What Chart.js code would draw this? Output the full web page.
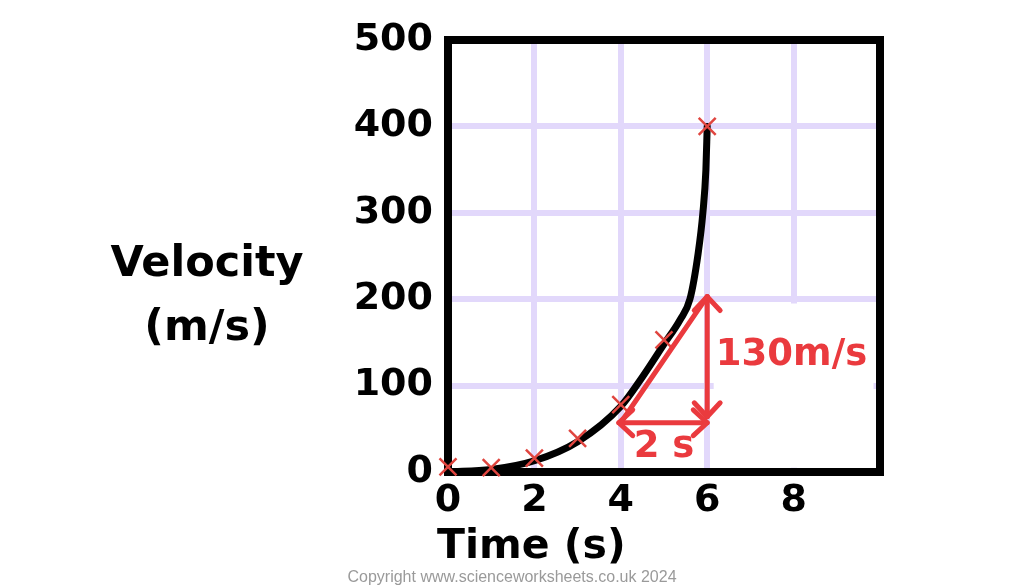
<!DOCTYPE html>
<html>
<head>
<meta charset="utf-8">
<script src="https://cdn.jsdelivr.net/npm/chart.js@4.4.1/dist/chart.umd.min.js"></script>
<style>
  html, body { margin: 0; padding: 0; background: #ffffff; }
  #wrap { width: 1024px; height: 587px; position: relative; }
</style>
</head>
<body>
<div id="wrap"><canvas id="velocity-chart" width="1024" height="587"></canvas></div>
<script>
// measured points (red crosses)
var timeData = [0, 1, 2, 3, 4, 5, 6];
var velocityData = [6, 5, 16, 39, 78, 153, 400];

// best-fit curve
var curveTime = [0, 1, 2, 3, 4, 4.5, 5, 5.37, 5.6, 5.79, 5.9, 5.97, 6];
var curveVelocity = [0, 3, 13, 35, 76, 110, 148, 176, 200, 253, 300, 350, 400];

// gradient triangle (data units)
var triTime = [4, 6];
var triVelocity = [57, 203];
var triArrowBottom = 64;
var riseLabel = '130m/s';
var runLabel = '2 s';

var xTicks = [0, 2, 4, 6, 8];
var yTicks = [0, 100, 200, 300, 400, 500];

var RED = '#ea3a3e';
var GRID = '#e2d8fb';
var FONT = '"DejaVu Sans", "Open Sans", sans-serif';

function arrowHead(ctx, x, y, ang, len) {
    // ang = direction the arrow points to
    var a = 0.75;
    ctx.beginPath();
    ctx.moveTo(x - len * Math.cos(ang - a), y - len * Math.sin(ang - a));
    ctx.lineTo(x, y);
    ctx.lineTo(x - len * Math.cos(ang + a), y - len * Math.sin(ang + a));
    ctx.stroke();
}

var extras = {
    id: 'extras',
    beforeDatasetsDraw: function (chart) {
        var ctx = chart.ctx, a = chart.chartArea;
        var xs = chart.scales.x, ys = chart.scales.y;
        ctx.save();
        // white box behind the rise label (hides some grid)
        ctx.fillStyle = '#ffffff';
        ctx.fillRect(xs.getPixelForValue(6.15), ys.getPixelForValue(195),
            xs.getPixelForValue(9.85) - xs.getPixelForValue(6.15),
            ys.getPixelForValue(5) - ys.getPixelForValue(195));
        // frame
        ctx.strokeStyle = '#000000';
        ctx.lineWidth = 8;
        ctx.strokeRect(a.left, a.top, a.right - a.left, a.bottom - a.top);
        ctx.restore();
    },
    afterDatasetsDraw: function (chart) {
        var ctx = chart.ctx;
        var xs = chart.scales.x, ys = chart.scales.y;
        var x0 = xs.getPixelForValue(triTime[0]), x1 = xs.getPixelForValue(triTime[1]);
        var yb = ys.getPixelForValue(triVelocity[0]), yt = ys.getPixelForValue(triVelocity[1]);
        var yv = ys.getPixelForValue(triArrowBottom);
        ctx.save();
        ctx.strokeStyle = RED;
        ctx.lineWidth = 5;
        ctx.lineCap = 'round';
        ctx.lineJoin = 'round';
        // hypotenuse
        ctx.beginPath();
        ctx.moveTo(x0 + 2, yb - 3);
        ctx.lineTo(x1, yt);
        ctx.stroke();
        // vertical double arrow
        ctx.beginPath();
        ctx.moveTo(x1, yt);
        ctx.lineTo(x1, yv);
        ctx.stroke();
        arrowHead(ctx, x1, yt, -Math.PI / 2, 19);
        arrowHead(ctx, x1, yv, Math.PI / 2, 19);
        // horizontal double arrow
        ctx.beginPath();
        ctx.moveTo(x0 - 2, yb);
        ctx.lineTo(x1, yb);
        ctx.stroke();
        arrowHead(ctx, x0 - 2, yb, Math.PI, 19);
        arrowHead(ctx, x1, yb, 0, 19);
        // labels
        ctx.fillStyle = RED;
        ctx.font = 'bold 37px ' + FONT;
        ctx.textBaseline = 'middle';
        ctx.textAlign = 'left';
        ctx.fillText(riseLabel, xs.getPixelForValue(6.2), ys.getPixelForValue(135));
        ctx.textAlign = 'center';
        ctx.fillText(runLabel, xs.getPixelForValue(5), ys.getPixelForValue(29));
        ctx.restore();
    },
    afterDraw: function (chart) {
        var ctx = chart.ctx;
        ctx.save();
        ctx.fillStyle = '#000000';
        ctx.textAlign = 'center';
        ctx.textBaseline = 'middle';
        ctx.font = 'bold 43px ' + FONT;
        ctx.fillText('Velocity', 207, 265);
        ctx.fillText('(m/s)', 207, 329);
        ctx.textAlign = 'left';
        ctx.font = 'bold 41px ' + FONT;
        ctx.fillText('Time (s)', 437, 547);
        ctx.fillStyle = '#9a9a9a';
        ctx.textAlign = 'center';
        ctx.font = '16px "Liberation Sans", Arial, sans-serif';
        ctx.fillText('Copyright www.scienceworksheets.co.uk 2024', 512, 578);
        ctx.restore();
    }
};

function gridColor(ctx) {
    var v = ctx.tick ? ctx.tick.value : null;
    var s = ctx.scale;
    if (v === s.min || v === s.max) return 'rgba(0,0,0,0)';
    return GRID;
}

new Chart(document.getElementById('velocity-chart'), {
    type: 'scatter',
    data: {
        datasets: [{
            label: 'Measurements',
            data: timeData.map(function (t, i) { return { x: t, y: velocityData[i] }; }),
            pointStyle: 'crossRot',
            pointRadius: 12,
            pointBorderWidth: 2.5,
            pointBorderColor: '#e0453f',
            showLine: false,
            clip: false,
            order: 0
        }, {
            label: 'Curve',
            data: curveTime.map(function (t, i) { return { x: t, y: curveVelocity[i] }; }),
            showLine: true,
            borderColor: '#000000',
            borderWidth: 7,
            cubicInterpolationMode: 'monotone',
            pointRadius: 0,
            borderCapStyle: 'round',
            order: 1
        }]
    },
    options: {
        responsive: false,
        animation: false,
        devicePixelRatio: 1,
        layout: { padding: { top: 40, right: 144, left: 0, bottom: 0 } },
        plugins: { legend: { display: false }, tooltip: { enabled: false } },
        scales: {
            x: {
                type: 'linear',
                min: 0, max: 10,
                afterFit: function (s) { s.height = 115; },
                afterBuildTicks: function (s) {
                    s.ticks = xTicks.concat([10]).map(function (v) { return { value: v }; });
                },
                border: { display: false },
                grid: { color: gridColor, lineWidth: 6, drawTicks: false },
                ticks: {
                    padding: 6,
                    color: '#000000',
                    font: { family: FONT, size: 38, weight: 'bold' },
                    callback: function (v) { return xTicks.indexOf(v) >= 0 ? String(v) : ''; }
                }
            },
            y: {
                min: 0, max: 500,
                afterFit: function (s) { s.width = 448; },
                afterBuildTicks: function (s) {
                    s.ticks = yTicks.map(function (v) { return { value: v }; });
                },
                border: { display: false },
                grid: { color: gridColor, lineWidth: 6, drawTicks: false },
                ticks: {
                    padding: 15,
                    color: '#000000',
                    font: { family: FONT, size: 38, weight: 'bold' }
                }
            }
        }
    },
    plugins: [extras]
});
</script>
</body>
</html>
